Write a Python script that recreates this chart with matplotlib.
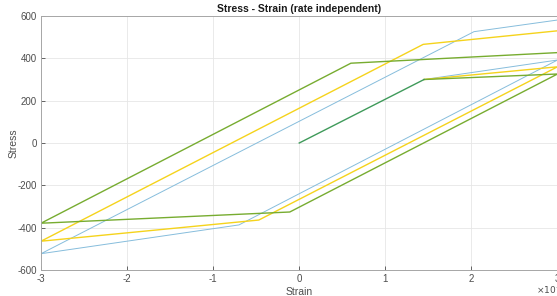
import numpy as np
import matplotlib
matplotlib.use("Agg")
import matplotlib.pyplot as plt

plt.rcParams["font.family"] = ["Liberation Sans", "DejaVu Sans"]
plt.rcParams["axes.unicode_minus"] = False

# strain values in units of 1e-3, stress in MPa
init_strain = [0.0, 1.45]
init_stress = [0, 300]

blue_strain = [1.45, 3.0, -0.70, -3.0, 2.03, 3.0]
blue_stress = [300, 392, -387, -523, 526, 581]

yellow_strain = [1.45, 3.0, -0.47, -3.0, 1.44, 3.0]
yellow_stress = [300, 360, -364, -464, 466, 530]

green_strain = [1.45, 3.0, -0.11, -3.0, 0.60, 3.0]
green_stress = [300, 326, -326, -379, 377, 427]

x_ticks = [-3, -2, -1, 0, 1, 2, 3]
y_ticks = [-600, -400, -200, 0, 200, 400, 600]

fig = plt.figure(figsize=(5.57, 2.96), dpi=100)
ax = fig.add_axes([41 / 557, 1 - 270 / 296, 516.5 / 557, 254 / 296])

scale = 1e-3
ax.plot(np.array(blue_strain) * scale, blue_stress, color="#86bddc", lw=0.7)
ax.plot(np.array(yellow_strain) * scale, yellow_stress, color="#f5d31c", lw=1.0)
ax.plot(np.array(green_strain) * scale, green_stress, color="#77ac30", lw=1.0)
ax.plot(np.array(init_strain) * scale, init_stress, color="#3f9a5a", lw=1.0)

ax.set_xlim(-3e-3, 3e-3)
ax.set_ylim(-600, 600)
ax.set_xticks(np.array(x_ticks) * scale)
ax.set_xticklabels([str(t) for t in x_ticks])
ax.set_yticks(y_ticks)
ax.set_yticklabels([str(t) for t in y_ticks])

ax.grid(True, color="#e6e6e6", lw=0.6)
ax.set_axisbelow(True)
ax.tick_params(direction="in", length=3, width=0.6, colors="#4d4d4d",
               labelsize=7, pad=3)
for side in ["left", "bottom", "top", "right"]:
    ax.spines[side].set_color("#a6a6a6")
    ax.spines[side].set_linewidth(0.7)

ax.set_xlabel("Strain", fontsize=7.5, color="#4d4d4d", labelpad=2)
ax.set_ylabel("Stress", fontsize=7.5, color="#4d4d4d", labelpad=-1)
ax.set_title("Stress - Strain (rate independent)", fontsize=7.5,
             fontweight="bold", color="#1a1a1a", pad=3)
fig.text(536 / 557, 1 - 294 / 296, r"$\times10^{-3}$", fontsize=6.5,
         color="#4d4d4d", ha="left", va="baseline")

fig.savefig("out.png", dpi=100)
